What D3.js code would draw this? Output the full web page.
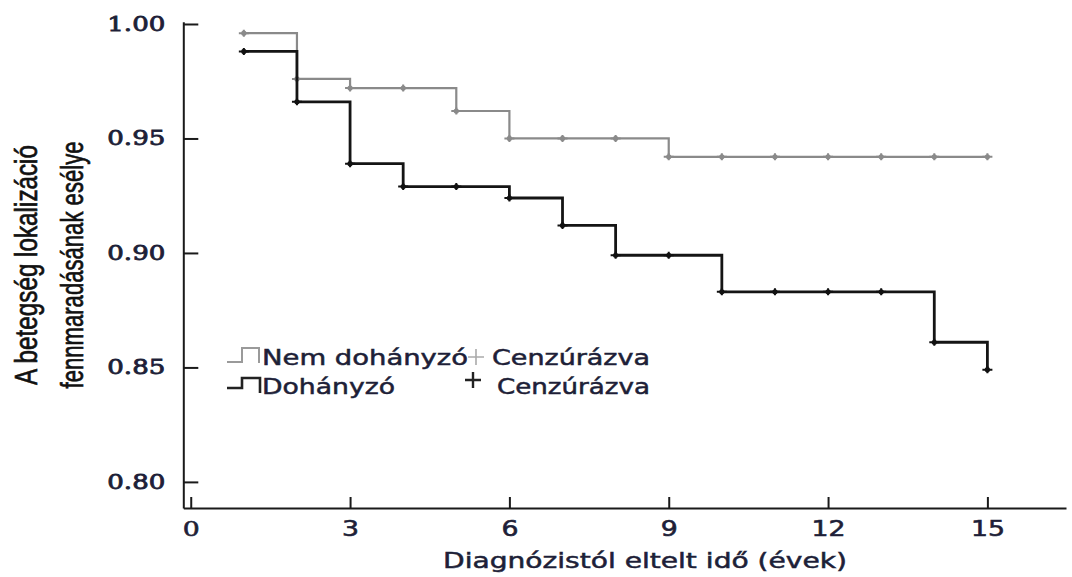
<!DOCTYPE html>
<html>
<head>
<meta charset="utf-8">
<script src="https://cdn.jsdelivr.net/npm/d3@7"></script>
<style>
  html, body { margin: 0; padding: 0; background: #ffffff; }
  svg { display: block; }
</style>
</head>
<body>
<svg id="chart" width="1072" height="577"></svg>
<script>
// ---- data ----
const years = [1, 2, 3, 4, 5, 6, 7, 8, 9, 10, 11, 12, 13, 14, 15];
const nonSmoker = [0.996, 0.976, 0.972, 0.972, 0.962, 0.950, 0.950, 0.950, 0.942, 0.942, 0.942, 0.942, 0.942, 0.942, 0.942];
const smoker    = [0.988, 0.966, 0.939, 0.929, 0.929, 0.924, 0.912, 0.899, 0.899, 0.883, 0.883, 0.883, 0.883, 0.861, 0.849];
const xTicks = [0, 3, 6, 9, 12, 15];
const yTicks = [0.80, 0.85, 0.90, 0.95, 1.00];
const seriesNames = ["Nem dohányzó", "Dohányzó"];
const censorLabel = "Cenzúrázva";
const xTitle = "Diagnózistól eltelt idő (évek)";
const yTitleLines = ["A betegség lokalizáció", "fennmaradásának esélye"];

// ---- layout ----
const svg = d3.select("#chart");
const x = d3.scaleLinear().domain([-0.14, 16.48]).range([183.3, 1066]);
const y = d3.scaleLinear().domain([0.7886, 1.001]).range([508, 21.7]);
const textColor = "#1e1f38";
const serif = "'DejaVu Serif', 'Liberation Serif', serif";
const sans = "'DejaVu Sans', Verdana, sans-serif";

function heavy(sel, w) {
  sel.attr("stroke", function() { return d3.select(this).attr("fill"); })
     .attr("stroke-width", w)
     .attr("paint-order", "stroke");
}

// axes
const yAxis = svg.append("g")
  .attr("transform", `translate(${x.range()[0]},0)`)
  .call(d3.axisLeft(y).tickValues(yTicks).tickSizeInner(-15).tickSizeOuter(0).tickPadding(18).tickFormat(d3.format(".2f")));
const xAxis = svg.append("g")
  .attr("transform", `translate(0,${y.range()[0]})`)
  .call(d3.axisBottom(x).tickValues(xTicks).tickSizeInner(-11).tickSizeOuter(0).tickPadding(13).tickFormat(d3.format("d")));

[yAxis, xAxis].forEach(g => {
  g.select(".domain").attr("stroke", "#1a1a1a").attr("stroke-width", 2);
  g.selectAll(".tick line").attr("stroke", "#1a1a1a").attr("stroke-width", 2);
});
yAxis.selectAll(".tick text")
  .attr("font-family", serif).attr("font-size", 20.5).attr("fill", textColor)
  .attr("dy", "0.30em")
  .attr("textLength", 58).attr("lengthAdjust", "spacingAndGlyphs")
  .call(heavy, 0.8);
xAxis.selectAll(".tick text")
  .attr("font-family", d => d === 0 ? serif : sans)
  .attr("font-size", 21).attr("fill", textColor)
  .attr("textLength", d => d < 10 ? 17 : 34).attr("lengthAdjust", "spacingAndGlyphs")
  .call(heavy, 0.6);

// step lines
const line = d3.line()
  .x(d => x(d[0]))
  .y(d => y(d[1]))
  .curve(d3.curveStepAfter);

const series = [
  { values: nonSmoker, color: "#8a8a8a", width: 2.2, mcolor: "#8a8a8a" },
  { values: smoker, color: "#151515", width: 2.8, mcolor: "#111111" }
];

series.forEach(s => {
  const pts = years.map((t, i) => [t, s.values[i]]);
  svg.append("path")
    .datum(pts)
    .attr("fill", "none")
    .attr("stroke", s.color)
    .attr("stroke-width", s.width)
    .attr("d", line);
  const m = svg.append("g").selectAll("g.m").data(pts).join("g")
    .attr("transform", d => `translate(${x(d[0])},${y(d[1])})`);
  m.append("path")
    .attr("d", "M-5,0H5M0,-3.5V3.5")
    .attr("stroke", s.mcolor).attr("stroke-width", 2).attr("fill", "none");
  m.append("circle").attr("r", 2.6).attr("fill", s.mcolor);
});

// legend
const legend = svg.append("g");
legend.append("path").attr("d", "M227,362H242V348H259V363")
  .attr("fill", "none").attr("stroke", "#9a9a9a").attr("stroke-width", 2);
legend.append("path").attr("d", "M227,388H242V378H260V393")
  .attr("fill", "none").attr("stroke", "#222").attr("stroke-width", 2.6);
const legTexts = [
  { t: seriesNames[0], x: 262, y: 365, len: 206 },
  { t: seriesNames[1], x: 262, y: 394, len: 133 },
  { t: censorLabel, x: 492, y: 365, len: 158 },
  { t: censorLabel, x: 497, y: 394, len: 153 }
];
legTexts.forEach(d => {
  legend.append("text").attr("x", d.x).attr("y", d.y).text(d.t)
    .attr("font-family", sans).attr("font-size", 20.5).attr("fill", textColor)
    .attr("textLength", d.len).attr("lengthAdjust", "spacingAndGlyphs")
    .call(heavy, 0.5);
});
legend.append("path").attr("d", "M468,357H484M476,349V365")
  .attr("stroke", "#aaaaaa").attr("stroke-width", 1.6);
legend.append("path").attr("d", "M465,380H481M473,372V388")
  .attr("stroke", "#222").attr("stroke-width", 2.4);

// axis titles
svg.append("text")
  .attr("x", 645).attr("y", 568)
  .attr("text-anchor", "middle")
  .attr("font-family", sans).attr("font-size", 20.5).attr("fill", textColor)
  .attr("textLength", 404).attr("lengthAdjust", "spacingAndGlyphs")
  .text(xTitle)
  .call(heavy, 0.5);

const yTitleX = [36.7, 82.5];
const yTitleLen = [240, 247];
yTitleLines.forEach((t, i) => {
  svg.append("text")
    .attr("transform", `translate(${yTitleX[i]},265) scale(1.33,1) rotate(-90)`)
    .attr("text-anchor", "middle")
    .attr("font-family", "'Liberation Sans', Arial, sans-serif")
    .attr("font-size", 23).attr("fill", "#111")
    .attr("textLength", yTitleLen[i]).attr("lengthAdjust", "spacingAndGlyphs")
    .text(t)
    .call(heavy, 0.5);
});
</script>
</body>
</html>
